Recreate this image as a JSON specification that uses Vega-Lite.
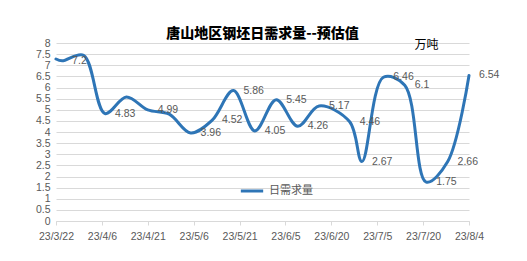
{
  "$schema": "https://vega.github.io/schema/vega-lite/v6.json",
  "width": 413,
  "height": 178,
  "autosize": {"type": "none"},
  "padding": {"left": 56, "top": 43, "right": 58, "bottom": 40},
  "background": "white",
  "title": {
    "text": "唐山地区钢坯日需求量--预估值",
    "fontSize": 14,
    "fontWeight": 900,
    "font": "Noto Sans CJK SC",
    "color": "#000000",
    "anchor": "middle",
    "offset": -3
  },
  "config": {
    "view": {"stroke": null},
    "axis": {"labelFont": "Liberation Sans", "labelFontSize": 10.5, "labelColor": "#595959"}
  },
  "data": {
    "values": [
      {"date": "2023-03-22", "value": 7.28, "label": "", "series": "日需求量"},
      {"date": "2023-03-24", "value": 7.2, "label": "7.2", "series": "日需求量"},
      {"date": "2023-03-31", "value": 7.45, "label": "", "series": "日需求量"},
      {"date": "2023-04-07", "value": 4.83, "label": "4.83", "series": "日需求量"},
      {"date": "2023-04-14", "value": 5.57, "label": "", "series": "日需求量"},
      {"date": "2023-04-21", "value": 4.99, "label": "4.99", "series": "日需求量"},
      {"date": "2023-04-28", "value": 4.8, "label": "", "series": "日需求量"},
      {"date": "2023-05-05", "value": 3.96, "label": "3.96", "series": "日需求量"},
      {"date": "2023-05-12", "value": 4.52, "label": "4.52", "series": "日需求量"},
      {"date": "2023-05-19", "value": 5.86, "label": "5.86", "series": "日需求量"},
      {"date": "2023-05-26", "value": 4.05, "label": "4.05", "series": "日需求量"},
      {"date": "2023-06-02", "value": 5.45, "label": "5.45", "series": "日需求量"},
      {"date": "2023-06-09", "value": 4.26, "label": "4.26", "series": "日需求量"},
      {"date": "2023-06-16", "value": 5.17, "label": "5.17", "series": "日需求量"},
      {"date": "2023-06-26", "value": 4.46, "label": "4.46", "series": "日需求量"},
      {"date": "2023-06-30", "value": 2.67, "label": "2.67", "series": "日需求量"},
      {"date": "2023-07-07", "value": 6.46, "label": "6.46", "series": "日需求量"},
      {"date": "2023-07-14", "value": 6.1, "label": "6.1", "series": "日需求量"},
      {"date": "2023-07-21", "value": 1.75, "label": "1.75", "series": "日需求量"},
      {"date": "2023-07-28", "value": 2.66, "label": "2.66", "series": "日需求量"},
      {"date": "2023-08-04", "value": 6.54, "label": "6.54", "series": "日需求量"}
    ]
  },
  "encoding": {
    "x": {
      "field": "date",
      "type": "temporal",
      "scale": {
        "type": "utc",
        "domain": [
          {"year": 2023, "month": 3, "date": 22, "utc": true},
          {"year": 2023, "month": 8, "date": 4, "utc": true}
        ]
      },
      "axis": {
        "title": null,
        "format": "%y/%-m/%-d",
        "values": [
          {"year": 2023, "month": 3, "date": 22, "utc": true},
          {"year": 2023, "month": 4, "date": 6, "utc": true},
          {"year": 2023, "month": 4, "date": 21, "utc": true},
          {"year": 2023, "month": 5, "date": 6, "utc": true},
          {"year": 2023, "month": 5, "date": 21, "utc": true},
          {"year": 2023, "month": 6, "date": 5, "utc": true},
          {"year": 2023, "month": 6, "date": 20, "utc": true},
          {"year": 2023, "month": 7, "date": 5, "utc": true},
          {"year": 2023, "month": 7, "date": 20, "utc": true},
          {"year": 2023, "month": 8, "date": 4, "utc": true}
        ],
        "grid": false,
        "domainColor": "#d9d9d9",
        "tickColor": "#d9d9d9",
        "tickSize": 4,
        "labelPadding": 6,
        "labelFlush": false,
        "labelOverlap": false
      }
    },
    "y": {
      "field": "value",
      "type": "quantitative",
      "scale": {"domain": [0, 8], "nice": false, "zero": true},
      "axis": {
        "title": "万吨",
        "titleAngle": 0,
        "titleX": 370,
        "titleY": 8,
        "titleFont": "Noto Sans CJK SC",
        "titleFontSize": 12,
        "titleFontWeight": "normal",
        "titleColor": "#000000",
        "format": "~g",
        "values": [0, 0.5, 1, 1.5, 2, 2.5, 3, 3.5, 4, 4.5, 5, 5.5, 6, 6.5, 7, 7.5, 8],
        "domain": false,
        "ticks": false,
        "gridColor": "#d9d9d9",
        "labelPadding": 6
      }
    }
  },
  "layer": [
    {
      "mark": {"type": "line", "interpolate": "catmull-rom", "strokeWidth": 3, "strokeCap": "round"},
      "encoding": {
        "color": {
          "field": "series",
          "type": "nominal",
          "scale": {"range": ["#2E75B6"]},
          "legend": {
            "title": null,
            "orient": "none",
            "legendX": 183,
            "legendY": 135,
            "symbolType": "stroke",
            "symbolStrokeWidth": 3,
            "symbolSize": 500,
            "labelFont": "Noto Sans CJK SC",
            "labelFontSize": 11,
            "labelColor": "#595959"
          }
        }
      }
    },
    {
      "mark": {"type": "text", "align": "left", "baseline": "middle", "dx": 10, "fontSize": 10.5, "font": "Liberation Sans", "color": "#595959"},
      "encoding": {"text": {"field": "label"}}
    }
  ]
}
